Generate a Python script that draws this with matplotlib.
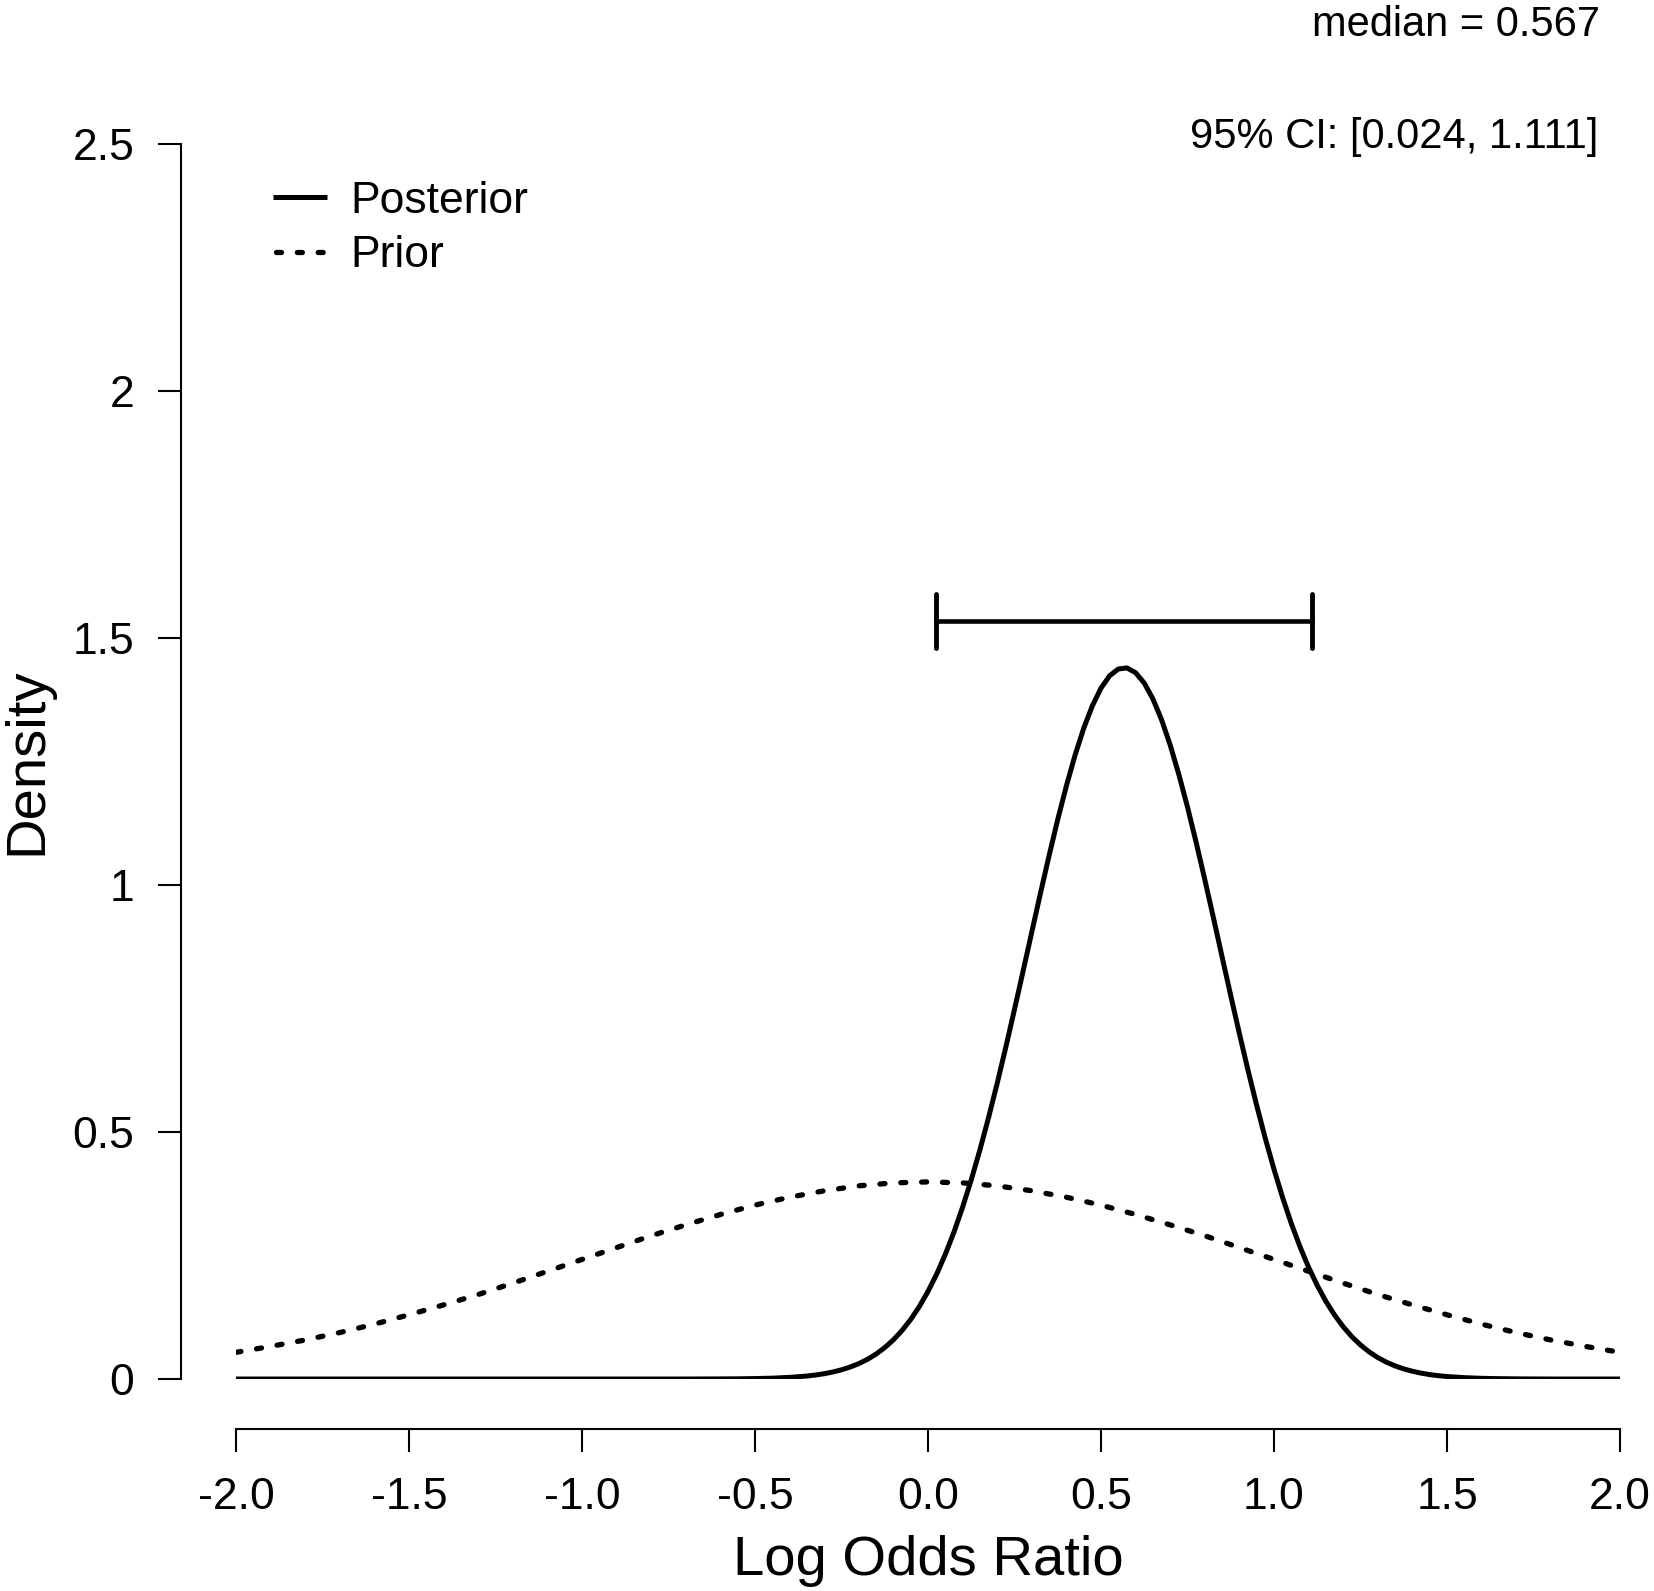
import numpy as np
import matplotlib
matplotlib.use('Agg')
from matplotlib import pyplot as plt
from matplotlib.lines import Line2D

# values
prior_x = np.round(np.arange(-20, 21) / 10, 1)
prior_y = [0.054, 0.066, 0.079, 0.094, 0.111, 0.130, 0.150, 0.171, 0.194, 0.218,
           0.242, 0.266, 0.290, 0.312, 0.333, 0.352, 0.368, 0.381, 0.391, 0.397,
           0.399,
           0.397, 0.391, 0.381, 0.368, 0.352, 0.333, 0.312, 0.290, 0.266, 0.242,
           0.218, 0.194, 0.171, 0.150, 0.130, 0.111, 0.094, 0.079, 0.066, 0.054]

post_x = ([-2.0, -0.70, -0.65, -0.60, -0.55, -0.50, -0.45, -0.40]
          + list(np.round(np.arange(-350, 1501, 25) / 1000, 3))
          + [1.55, 1.60, 1.65, 1.70, 1.75, 1.80, 2.0])
post_y = ([0.0, 0.0, 0.0001, 0.0002, 0.0004, 0.0009, 0.0017, 0.0033]
          + [0.0060, 0.0081, 0.0107, 0.0142, 0.0186, 0.0242, 0.0311, 0.0398,   # -0.350 .. -0.175
             0.0505, 0.0636, 0.0793, 0.0982, 0.1205, 0.1468, 0.1773, 0.2123,   # -0.150 .. 0.025
             0.2523, 0.2973, 0.3478, 0.4032, 0.4638, 0.5291, 0.5986, 0.6720,   # 0.050 .. 0.225
             0.7482, 0.8261, 0.9049, 0.9832, 1.0596, 1.1326, 1.2007, 1.2627,   # 0.250 .. 0.425
             1.3172, 1.3627, 1.3985, 1.4236, 1.4373, 1.4394, 1.4298, 1.4088,   # 0.450 .. 0.625
             1.3768, 1.3346, 1.2832, 1.2237, 1.1578, 1.0863, 1.0109, 0.9333,   # 0.650 .. 0.825
             0.8545, 0.7760, 0.6991, 0.6247, 0.5537, 0.4867, 0.4244, 0.3671,   # 0.850 .. 1.025
             0.3148, 0.2680, 0.2261, 0.1894, 0.1572, 0.1295, 0.1058, 0.0857,   # 1.050 .. 1.225
             0.0689, 0.0549, 0.0434, 0.0341, 0.0265, 0.0204, 0.0157, 0.0119,   # 1.250 .. 1.425
             0.0089, 0.0067, 0.0050]                                           # 1.450 .. 1.500
          + [0.0027, 0.0014, 0.0007, 0.0003, 0.0001, 0.0, 0.0])

median = 0.567
ci_low, ci_high = 0.024, 1.111
ci_height = 1.534

ytick_vals = [0, 0.5, 1, 1.5, 2, 2.5]
ytick_labels = ['0', '0.5', '1', '1.5', '2', '2.5']
xtick_vals = [-2.0, -1.5, -1.0, -0.5, 0.0, 0.5, 1.0, 1.5, 2.0]
xtick_labels = ['-2.0', '-1.5', '-1.0', '-0.5', '0.0', '0.5', '1.0', '1.5', '2.0']

plt.rcParams['font.family'] = ['Liberation Sans', 'DejaVu Sans']

W, H = 1654, 1591
dots = (0.95, 3.0)

fig = plt.figure(figsize=(W / 100, H / 100), dpi=100)
ax = fig.add_axes([236 / W, 1 - 1379 / H, (1620 - 236) / W, (1379 - 144) / H])

ax.plot(post_x, post_y, color='black', lw=3.6, solid_capstyle='butt')
ax.plot(prior_x, prior_y, color='black', lw=3.8, dashes=dots,
        dash_capstyle='round')

# credible interval bar
cap = 0.055
ax.plot([ci_low, ci_high], [ci_height, ci_height], color='black', lw=3.3)
ax.plot([ci_low, ci_low], [ci_height - cap, ci_height + cap], color='black',
        lw=3.5, solid_capstyle='round')
ax.plot([ci_high, ci_high], [ci_height - cap, ci_height + cap], color='black',
        lw=3.5, solid_capstyle='round')

ax.set_xlim(-2, 2)
ax.set_ylim(0, 2.5)

for s in ['top', 'right']:
    ax.spines[s].set_visible(False)
ax.spines['left'].set_position(('outward', 55 * 0.72))
ax.spines['bottom'].set_position(('outward', 50 * 0.72))
ax.spines['left'].set_bounds(0, 2.5)
ax.spines['bottom'].set_bounds(-2, 2)
for s in ['left', 'bottom']:
    ax.spines[s].set_linewidth(1.5)

ax.set_yticks(ytick_vals, ytick_labels)
ax.set_xticks(xtick_vals, xtick_labels)
ax.tick_params(axis='both', length=16.5, width=1.5, labelsize=32, color='black')
ax.tick_params(axis='y', pad=17)
ax.tick_params(axis='x', pad=18)

fig.text(27 / W, 1 - 761 / H, 'Density', rotation=90, ha='center', va='center', fontsize=40.5)
fig.text(928 / W, 1 - 1575 / H, 'Log Odds Ratio', ha='center', va='baseline', fontsize=40.5)

fig.text(1600 / W, 1 - 36 / H, f'median = {median:.3f}', ha='right', va='baseline', fontsize=30)
fig.text(1598 / W, 1 - 148 / H, f'95% CI: [{ci_low:.3f}, {ci_high:.3f}]',
         ha='right', va='baseline', fontsize=30)

# legend, drawn by hand in figure pixels
fig.add_artist(Line2D([273 / W, 327 / W], [1 - 197 / H, 1 - 197 / H],
                      color='black', lw=3.6, solid_capstyle='butt'))
fig.add_artist(Line2D([276 / W, 327 / W], [1 - 252 / H, 1 - 252 / H],
                      color='black', lw=3.8, dashes=dots, dash_capstyle='round'))
fig.text(350 / W, 1 - 213 / H, 'Posterior', ha='left', va='baseline', fontsize=32)
fig.text(350 / W, 1 - 267 / H, 'Prior', ha='left', va='baseline', fontsize=32)

fig.savefig('out.png', dpi=100, facecolor='white')
